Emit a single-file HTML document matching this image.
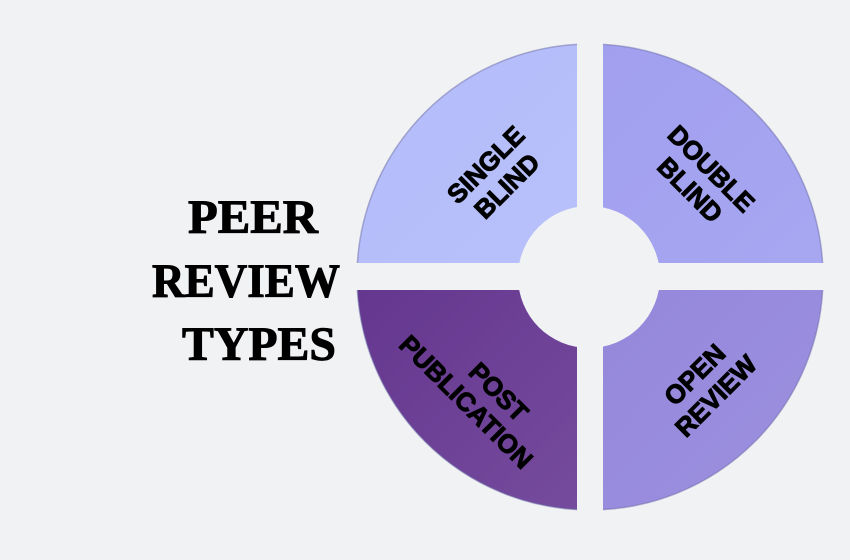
<!DOCTYPE html>
<html><head><style>
html,body{margin:0;padding:0;background:#f1f2f4;}
svg{display:block}
</style></head><body>
<svg width="850" height="560" viewBox="0 0 850 560" xmlns="http://www.w3.org/2000/svg">
<defs>
<linearGradient id="gbl" x1="0" y1="0" x2="1" y2="1">
<stop offset="0" stop-color="#5c2b86"/><stop offset="1" stop-color="#7e57a6"/></linearGradient>
<linearGradient id="gtl" x1="0" y1="0" x2="1" y2="1">
<stop offset="0" stop-color="#b3bcf9"/><stop offset="1" stop-color="#bec6fd"/></linearGradient>
<linearGradient id="gtr" x1="0" y1="0" x2="1" y2="1">
<stop offset="0" stop-color="#9e9cee"/><stop offset="1" stop-color="#aaaaf2"/></linearGradient>
<linearGradient id="gbr" x1="0" y1="0" x2="1" y2="1">
<stop offset="0" stop-color="#8d7ed8"/><stop offset="1" stop-color="#9c90df"/></linearGradient>
<clipPath id="ctl"><rect x="300" y="0" width="277" height="263"/></clipPath>
<clipPath id="ctr"><rect x="603" y="0" width="247" height="263"/></clipPath>
<clipPath id="cbl"><rect x="300" y="290" width="277" height="270"/></clipPath>
<clipPath id="cbr"><rect x="603" y="290" width="247" height="270"/></clipPath>
</defs>
<rect width="850" height="560" fill="#f1f2f4"/>
<g stroke="#6a6aa8" stroke-width="1.5" stroke-opacity="0.5">
<circle cx="590" cy="277" r="233" fill="url(#gtl)" clip-path="url(#ctl)"/>
<circle cx="590" cy="277" r="233" fill="url(#gtr)" clip-path="url(#ctr)"/>
<circle cx="590" cy="277" r="233" fill="url(#gbl)" clip-path="url(#cbl)"/>
<circle cx="590" cy="277" r="233" fill="url(#gbr)" clip-path="url(#cbr)"/>
</g>
<circle cx="589" cy="277" r="71" fill="#f1f2f4"/>
<g font-family="Liberation Sans, Arial, sans-serif" font-weight="bold" font-size="26" fill="#000" stroke="#000" stroke-width="1" text-anchor="middle">
<g transform="translate(497,176) rotate(-45)"><text y="-7">SINGLE</text><text y="23">BLIND</text></g>
<g transform="translate(700,180) rotate(45)"><text y="-7">DOUBLE</text><text y="23">BLIND</text></g>
<g transform="translate(476,392) rotate(45)"><text y="-7" x="16">POST</text><text y="23">PUBLICATION</text></g>
<g transform="translate(706,386) rotate(-45)"><text y="-7">OPEN</text><text y="23">REVIEW</text></g>
</g>
<g font-family="Liberation Serif, serif" font-weight="bold" font-size="48" fill="#000" stroke="#000" stroke-width="1">
<text x="188" y="233" textLength="130" lengthAdjust="spacingAndGlyphs">PEER</text>
<text x="152" y="297" textLength="188" lengthAdjust="spacingAndGlyphs">REVIEW</text>
<text x="182" y="360" textLength="154" lengthAdjust="spacingAndGlyphs">TYPES</text>
</g>
</svg>
</body></html>
